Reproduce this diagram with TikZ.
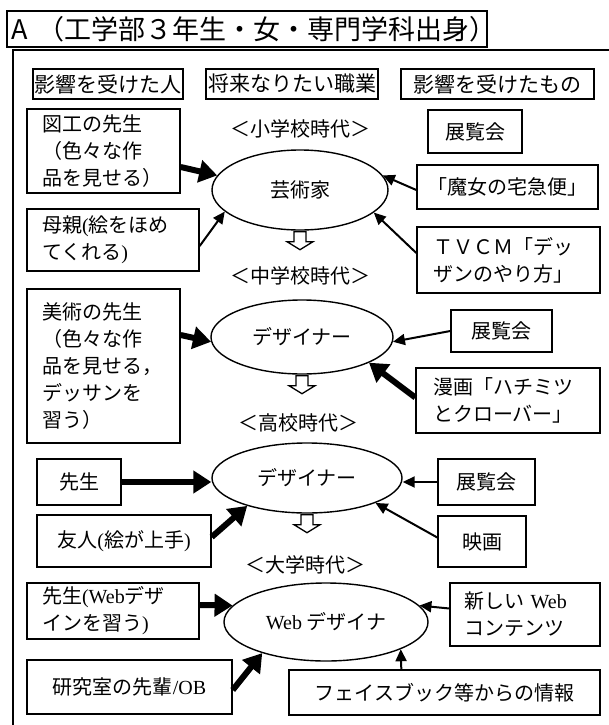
\documentclass[tikz,border=0pt]{standalone}
\usepackage{fontspec}
\setmainfont{Liberation Serif}
\newfontfamily\jp{Noto Sans CJK JP}
\usetikzlibrary{shapes.geometric,arrows.meta,calc}
\tikzset{
  bx/.style={draw, line width=1.4pt, inner sep=0pt, font=\jp\fontsize{20}{27}\selectfont},
  lbx/.style={bx, align=left, inner xsep=15pt},
  cbx/.style={bx, align=center},
  ell/.style={ellipse, draw, line width=1.4pt, inner sep=0pt, font=\jp\fontsize{20}{24}\selectfont},
  era/.style={inner sep=0pt, font=\jp\fontsize{20}{24}\selectfont},
  hdr/.style={draw, line width=1.8pt, inner sep=0pt, font=\jp\fontsize{21}{24}\selectfont},
  tarr/.style={line width=6pt, -{Triangle[length=18pt,width=22pt]}},
  narr/.style={line width=2pt, -{Triangle[length=12pt,width=11pt]}},
  harrow/.pic={\draw[line width=1.3pt, fill=white, line join=miter]
     (-6,1) -- (6,1) -- (6,11) -- (13,11) -- (0,19) -- (-13,11) -- (-6,11) -- cycle;}
}
\begin{document}
\begin{tikzpicture}[x=1pt,y=-1pt]
\useasboundingbox (0,0) rectangle (609,725);
\fill[white] (0,0) rectangle (609,725);
% title and frame
\node[draw, line width=1.8pt, inner sep=0pt, inner xsep=5pt, minimum height=36pt, text width=470pt, align=left,
      font=\jp\fontsize{27}{30}\selectfont] (T) at (247,29) {A （工学部３年生・女・専門学科出身）};
\draw[line width=2pt] (13,725) -- (13,50) -- (609,50);
% headers
\node[hdr, minimum width=150pt, minimum height=30pt] (H1) at (108,84) {影響を受けた人};
\node[hdr, minimum width=172pt, minimum height=30pt] (H2) at (292,84) {将来なりたい職業};
\node[hdr, minimum width=193pt, minimum height=30pt] (H3) at (497.5,84) {影響を受けたもの};
% era labels
\node[era] (L1) at (300,129) {＜小学校時代＞};
\node[era] (L2) at (300,276) {＜中学校時代＞};
\node[era] (L3) at (298,423) {＜高校時代＞};
\node[era] (L4) at (305,565) {＜大学時代＞};
% ellipses
\node[ell, minimum width=176pt, minimum height=80pt] (E1) at (300,190) {芸術家};
\node[ell, minimum width=182pt, minimum height=74pt] (E2) at (302,337) {デザイナー};
\node[ell, minimum width=190pt, minimum height=70pt] (E3) at (307,478) {デザイナー};
\node[ell, minimum width=204pt, minimum height=78pt] (E4) at (326,622) {{\rmfamily Web} デザイナ};
% hollow arrows
\path (E1.south) pic {harrow};
\path (E2.south) pic {harrow};
\path (E3.south) pic {harrow};
% left boxes
\node[lbx, minimum width=153pt, text width=123pt, minimum height=84pt] (B1) at (103.5,151)
  {図工の先生\\（色々な作\\品を見せる）};
\node[lbx, minimum width=172pt, text width=142pt, minimum height=62pt] (B2) at (113,240)
  {母親{\rmfamily (}絵をほめ\\てくれる{\rmfamily )}};
\node[lbx, minimum width=153pt, text width=123pt, minimum height=154pt] (B3) at (103.5,366)
  {美術の先生\\（色々な作\\品を見せる，\\デッサンを\\習う）};
\node[cbx, minimum width=84pt, minimum height=46pt] (B4) at (79,482) {先生};
\node[cbx, minimum width=174pt, minimum height=52pt] (B5) at (124,541) {友人{\rmfamily (}絵が上手{\rmfamily )}};
\node[lbx, minimum width=172pt, text width=142pt, minimum height=56pt] (B6) at (113,611)
  {先生{\rmfamily (Web}デザ\\インを習う{\rmfamily )}};
\node[cbx, minimum width=205pt, minimum height=54pt] (B7) at (129.5,687) {研究室の先輩{\rmfamily /OB}};
% right boxes
\node[cbx, minimum width=94pt, minimum height=43pt] (R1) at (475,131.5) {展覧会};
\node[cbx, minimum width=181pt, minimum height=44pt] (R2) at (507.5,187) {「魔女の宅急便」};
\node[lbx, inner xsep=16pt, minimum width=183pt, text width=151pt, minimum height=66pt] (R3) at (508.5,260)
  {ＴＶＣＭ「デッ\\ザンのやり方」};
\node[cbx, minimum width=101pt, minimum height=42pt] (R4) at (501.5,331) {展覧会};
\node[lbx, inner xsep=17pt, minimum width=184pt, text width=150pt, minimum height=65pt] (R5) at (508,400.5)
  {漫画「ハチミツ\\とクローバー」};
\node[cbx, minimum width=97pt, minimum height=46pt] (R6) at (486.5,482) {展覧会};
\node[cbx, minimum width=88pt, minimum height=51pt] (R7) at (482,541.5) {映画};
\node[lbx, inner xsep=14pt, minimum width=150pt, text width=122pt, minimum height=63pt] (R8) at (525,614.5)
  {新しい {\rmfamily Web}\\コンテンツ};
\node[cbx, minimum width=311pt, minimum height=45pt] (R9) at (444.5,692.5) {フェイスブック等からの情報};
% arrows
\draw[tarr] ($(B1.east)+(0,16)$) -- (E1.170);
\draw[narr] ($(B2.east)+(0,6)$) -- (E1.196);
\draw[narr] ($(R2.west)+(0,3)$) -- (E1.10);
\draw[narr] ($(R3.west)+(0,-7)$) -- (E1.343);
\draw[tarr] ($(B3.east)+(0,-31)$) -- (E2.183);
\draw[narr] (R4.west) -- (E2.357);
\draw[tarr] ($(R5.west)+(0,-3)$) -- (E2.339);
\draw[tarr] (B4.east) -- (B4.east -| E3.west);
\draw[tarr] ($(B5.east)+(0,-4)$) -- (E3.205);
\draw[narr] (R6.west) -- (R6.west -| E3.east);
\draw[narr] ($(R7.west)+(0,-4)$) -- (E3.340);
\draw[tarr] ($(B6.east)+(0,-6)$) -- (E4.170);
\draw[tarr] ($(B7.east)+(0,3)$) -- (E4.206);
\draw[narr] ($(R8.west)+(0,-6)$) -- (E4.10);
\draw[narr] ($(R9.north west)+(113,0)$) -- (E4.340);
\end{tikzpicture}
\end{document}
